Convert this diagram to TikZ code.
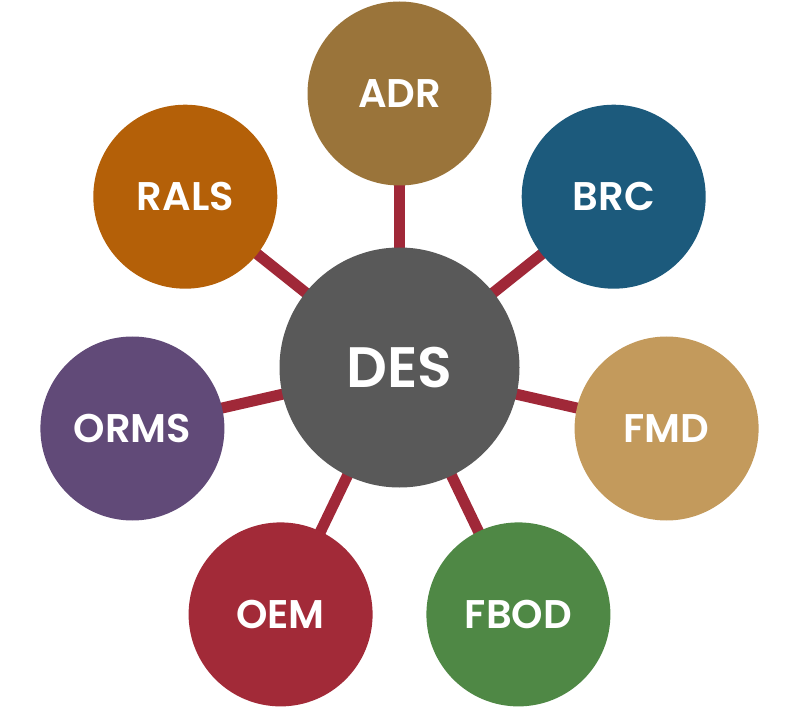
\documentclass[tikz,border=0pt]{standalone}
\usepackage{fontspec}
\setmainfont{Poppins}[BoldFont={Poppins SemiBold}]
\usetikzlibrary{backgrounds}
\definecolor{cdes}{HTML}{595959}
\definecolor{cadr}{HTML}{9A743A}
\definecolor{cbrc}{HTML}{1C5A7C}
\definecolor{cfmd}{HTML}{C39A5C}
\definecolor{cfbod}{HTML}{4F8845}
\definecolor{coem}{HTML}{A22A38}
\definecolor{corms}{HTML}{614A78}
\definecolor{crals}{HTML}{B46008}
\definecolor{clink}{HTML}{A02838}
\tikzset{
  hub/.style={circle,inner sep=0pt,outer sep=0pt,minimum size=240pt,fill=cdes,text=white,font=\bfseries\fontsize{57}{60}\selectfont},
  sat/.style={circle,inner sep=0pt,outer sep=0pt,minimum size=184pt,text=white,font=\bfseries\fontsize{40}{44}\selectfont},
  link/.style={draw=clink,line width=11pt}
}
\begin{document}
\begin{tikzpicture}[x=1pt,y=-1pt]
\useasboundingbox (0,0) rectangle (798,711);
\node[hub] (des) at (399.5,367.5) {DES};
\node[sat,fill=cadr] (adr) at (399.5,93.5) {ADR};
\node[sat,fill=cbrc] (brc) at (613.7,196.7) {BRC};
\node[sat,fill=cfmd] (fmd) at (666.6,428.5) {FMD};
\node[sat,fill=cfbod] (fbod) at (518.4,614.4) {FBOD};
\node[sat,fill=coem] (oem) at (280.6,614.4) {OEM};
\node[sat,fill=corms] (orms) at (132.4,428.5) {ORMS};
\node[sat,fill=crals] (rals) at (185.3,196.7) {RALS};
\begin{scope}[on background layer]
\foreach \s in {adr,brc,fmd,fbod,oem,orms,rals}
  \draw[link] (des.center) -- (\s.center);
\end{scope}
\end{tikzpicture}
\end{document}
